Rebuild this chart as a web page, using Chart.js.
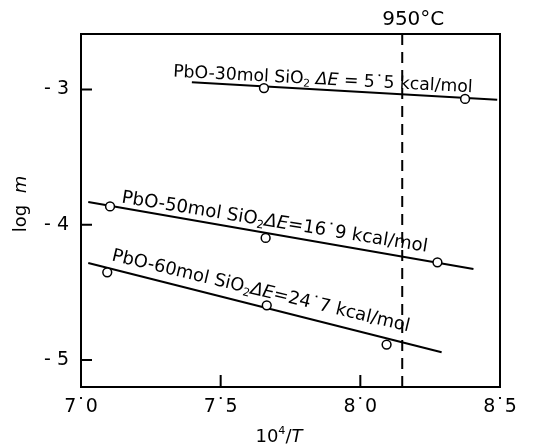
<!DOCTYPE html>
<html><head><meta charset="utf-8">
<script src="https://cdn.jsdelivr.net/npm/chart.js@4"></script>
<style>html,body{margin:0;padding:0;background:#fff}#wrap{width:541px;height:446px}</style>
</head><body><div id="wrap"><canvas id="c" width="541" height="446"></canvas></div>
<script>
// ---- data ----
const xTicks = [7.0, 7.5, 8.0, 8.5];
const xTickLabels = ['7˙0', '7˙5', '8˙0', '8˙5'];
const yTicks = [-3, -4, -5];
const yTickLabels = ['- 3', '- 4', '- 5'];

const pts30X = [7.655, 8.375];
const pts30Y = [-2.99, -3.07];
const fit30X = [7.397, 8.49];
const fit30Y = [-2.947, -3.077];

const pts50X = [7.104, 7.661, 8.276];
const pts50Y = [-3.865, -4.098, -4.278];
const fit50X = [7.026, 8.405];
const fit50Y = [-3.832, -4.327];

const pts60X = [7.094, 7.665, 8.094];
const pts60Y = [-4.352, -4.596, -4.886];
const fit60X = [7.026, 8.291];
const fit60Y = [-4.283, -4.943];

const tempLineX = 8.15;
const tempLabel = '950°C';
const label30 = [['PbO-30mol SiO', 'n'], ['2', 'sub'], [' ', 'n'], ['ΔE', 'i'], ' = 5˙5 kcal/mol'];
const label50 = [['PbO-50mol SiO', 'n'], ['2', 'sub'], ['ΔE', 'i'], ['=16˙9 kcal/mol', 'n']];
const label60 = [['PbO-60mol SiO', 'n'], ['2', 'sub'], ['ΔE', 'i'], ['=24˙7 kcal/mol', 'n']];
const xTitle = [['10', 'n'], ['4', 'sup'], ['/', 'n'], ['T', 'i']];
const yTitle = [['log  ', 'n'], ['m', 'i']];

// ---- helpers ----
const FONT = '"DejaVu Sans", sans-serif';
const toXY = (xs, ys) => xs.map((x, i) => ({x, y: ys[i]}));
const norm = p => Array.isArray(p) ? p : [p, 'n'];
function partFont(style, fs) {
  const s = (style === 'sub' || style === 'sup') ? fs * 0.62 : fs;
  return (style === 'i' ? 'italic ' : '') + s.toFixed(2) + 'px ' + FONT;
}
function richWidth(ctx, parts, fs) {
  let w = 0;
  for (const p of parts) { const [t, st] = norm(p); ctx.font = partFont(st, fs); w += ctx.measureText(t).width; }
  return w;
}
function drawRich(ctx, parts, fs, x0) {
  let x = x0;
  for (const p of parts) {
    const [t, st] = norm(p);
    ctx.font = partFont(st, fs);
    let dy = 0;
    if (st === 'sub') dy = fs * 0.18;
    if (st === 'sup') dy = -fs * 0.42;
    ctx.fillText(t, x, dy);
    x += ctx.measureText(t).width;
  }
}

const lineLabels = [
  {parts: label30, x: 7.329, y: -2.905, angle: 3.0, width: 300},
  {parts: label50, x: 7.143, y: -3.835, angle: 9.2, width: 310},
  {parts: label60, x: 7.107, y: -4.262, angle: 13.5, width: 306},
];

const decor = {
  id: 'decor',
  afterDraw(chart) {
    const ctx = chart.ctx, a = chart.chartArea;
    const xs = chart.scales.x, ys = chart.scales.y;
    ctx.save();
    ctx.strokeStyle = '#000'; ctx.fillStyle = '#000';
    ctx.lineWidth = 2;
    ctx.strokeRect(a.left, a.top, a.right - a.left, a.bottom - a.top);
    ctx.beginPath();
    for (const v of yTicks) { const p = ys.getPixelForValue(v); ctx.moveTo(a.left, p); ctx.lineTo(a.left + 11, p); }
    for (const v of xTicks) { const p = xs.getPixelForValue(v); ctx.moveTo(p, a.bottom); ctx.lineTo(p, a.bottom - 12); }
    ctx.stroke();

    ctx.textBaseline = 'alphabetic';
    ctx.textAlign = 'left';
    for (const L of lineLabels) {
      const w0 = richWidth(ctx, L.parts, 16);
      const fs = 16 * L.width / w0;
      ctx.save();
      ctx.translate(xs.getPixelForValue(L.x), ys.getPixelForValue(L.y));
      ctx.rotate(L.angle * Math.PI / 180);
      drawRich(ctx, L.parts, fs, 0);
      ctx.restore();
    }
    // 950°C label
    ctx.font = '20px ' + FONT;
    ctx.textAlign = 'center';
    ctx.fillText(tempLabel, xs.getPixelForValue(tempLineX) + 11, 25);
    ctx.textAlign = 'left';
    // x title
    const xfs = 18;
    const xw = richWidth(ctx, xTitle, xfs);
    ctx.save(); ctx.translate(279 - xw / 2, 442); drawRich(ctx, xTitle, xfs, 0); ctx.restore();
    // y title
    const yfs = 18;
    const yw = richWidth(ctx, yTitle, yfs);
    ctx.save(); ctx.translate(26, 204 + yw / 2); ctx.rotate(-Math.PI / 2); drawRich(ctx, yTitle, yfs, 0); ctx.restore();
    ctx.restore();
  }
};

const ptStyle = {showLine: false, pointRadius: 4.4, pointBackgroundColor: '#fff', pointBorderColor: '#000', pointBorderWidth: 1.5, pointHoverRadius: 4.4};
const lnStyle = {showLine: true, pointRadius: 0, borderColor: '#000', borderWidth: 2, pointHoverRadius: 0};

new Chart(document.getElementById('c'), {
  type: 'scatter',
  data: {
    datasets: [
      {data: toXY(pts30X, pts30Y), ...ptStyle},
      {data: toXY(pts50X, pts50Y), ...ptStyle},
      {data: toXY(pts60X, pts60Y), ...ptStyle},
      {data: toXY(fit30X, fit30Y), ...lnStyle},
      {data: toXY(fit50X, fit50Y), ...lnStyle},
      {data: toXY(fit60X, fit60Y), ...lnStyle},
      {data: [{x: tempLineX, y: -5.2}, {x: tempLineX, y: -2.59}], ...lnStyle, borderDash: [11, 7]},
    ]
  },
  options: {
    responsive: false, animation: false, devicePixelRatio: 1,
    layout: {padding: {left: 0, top: 34, right: 41, bottom: 0}},
    plugins: {legend: {display: false}, tooltip: {enabled: false}},
    events: [],
    scales: {
      x: {
        type: 'linear', min: 7.0, max: 8.5,
        afterBuildTicks: s => { s.ticks = xTicks.map(v => ({value: v})); },
        afterFit: s => { s.height = 59; },
        ticks: {font: {family: FONT, size: 19}, color: '#000', padding: 9,
          callback: v => xTickLabels[xTicks.indexOf(v)] ?? ''},
        grid: {display: false, drawTicks: false}, border: {display: false}
      },
      y: {
        type: 'linear', min: -5.2, max: -2.59,
        afterBuildTicks: s => { s.ticks = yTicks.map(v => ({value: v})); },
        afterFit: s => { s.width = 81; },
        ticks: {font: {family: FONT, size: 19}, color: '#000', padding: 12,
          callback: v => yTickLabels[yTicks.indexOf(v)] ?? ''},
        grid: {display: false, drawTicks: false}, border: {display: false}
      }
    }
  },
  plugins: [decor]
});
</script>
</body></html>
